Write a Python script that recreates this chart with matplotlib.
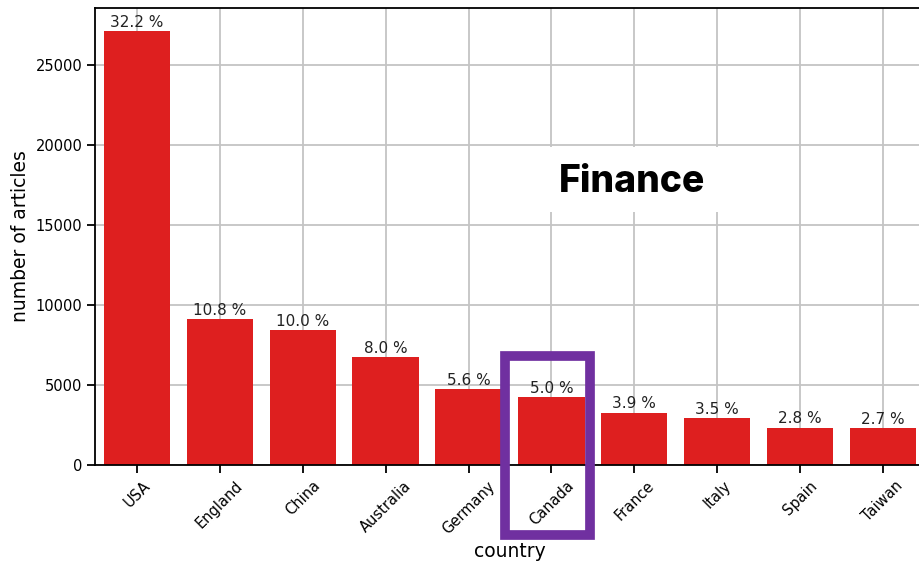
import matplotlib
matplotlib.use("Agg")
import matplotlib.pyplot as plt
from matplotlib.patches import Rectangle

countries = ["USA", "England", "China", "Australia", "Germany",
             "Canada", "France", "Italy", "Spain", "Taiwan"]
articles = [27120, 9120, 8440, 6750, 4750, 4250, 3260, 2940, 2330, 2290]
shares = [32.2, 10.8, 10.0, 8.0, 5.6, 5.0, 3.9, 3.5, 2.8, 2.7]

fig = plt.figure(figsize=(9.19, 5.69), dpi=100)
ax = fig.add_axes([0.1039, 0.1828, 0.902, 0.8032])

ax.set_axisbelow(True)
ax.grid(True, color="#c4c4c4", linewidth=1.3)
x = range(len(countries))
ax.bar(x, articles, width=0.8, color="#de1f1f")
for i, (v, s) in enumerate(zip(articles, shares)):
    ax.annotate(f"{s} %", (i, v), xytext=(0, 1), textcoords="offset points",
                ha="center", va="bottom", fontsize=11, color="#222222")

ax.set_xlim(-0.5, len(countries) - 0.5)
ax.set_ylim(0, 28560)
ax.set_yticks([0, 5000, 10000, 15000, 20000, 25000])
ax.set_xticks(list(x))
ax.set_xticklabels(countries, rotation=45, fontsize=10.5)
ax.tick_params(axis="y", labelsize=10.5)
ax.tick_params(length=6, width=1.3)
for sp in ax.spines.values():
    sp.set_linewidth(1.3)
ax.set_xlabel("country", fontsize=13.5)
ax.set_ylabel("number of articles", fontsize=13.5)

# white patch behind the title, then the title itself
fig.patches.append(Rectangle((546 / 919, 1 - 212 / 569), 176 / 919, 65 / 569,
                             transform=fig.transFigure, facecolor="white",
                             edgecolor="none"))
fig.text(632 / 919, 1 - 182.5 / 569, "Finance", fontsize=26.8, fontweight="heavy",
         family=["Inter", "DejaVu Sans"], ha="center", va="center")

# highlight box around Canada
fig.patches.append(Rectangle((504.5 / 919, 1 - 535 / 569), 85.5 / 919, 179 / 569,
                             transform=fig.transFigure, fill=False,
                             edgecolor="#7030a0", linewidth=7))

fig.savefig("out.png", dpi=100)
